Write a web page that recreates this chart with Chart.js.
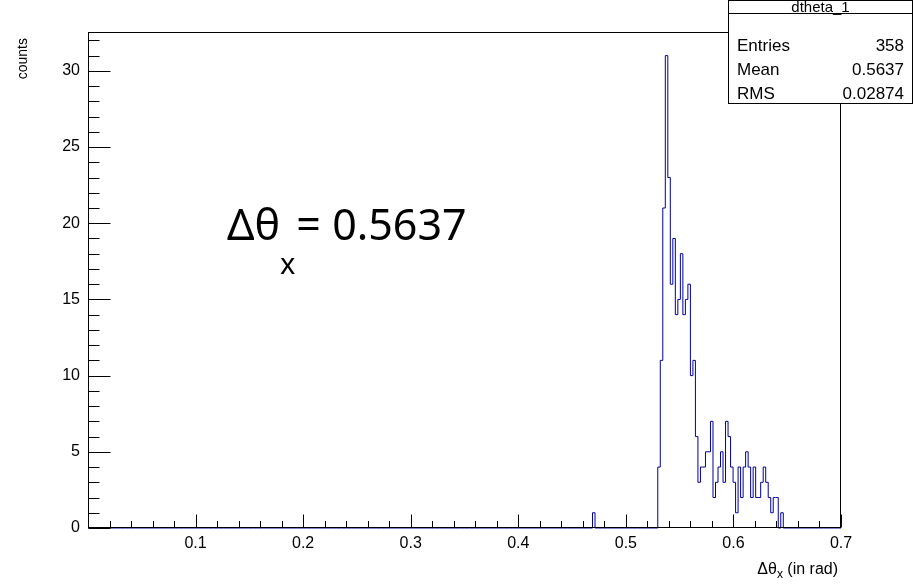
<!DOCTYPE html>
<html>
<head>
<meta charset="utf-8">
<script src="https://cdn.jsdelivr.net/npm/chart.js@4.4.1/dist/chart.umd.min.js"></script>
<style>
  html, body { margin: 0; padding: 0; background: #fff; }
  #wrap { width: 914px; height: 584px; }
</style>
</head>
<body>
<div id="wrap"><canvas id="hist" width="914" height="584"></canvas></div>
<script>
// histogram binning: 300 bins over [0, 0.7]
const xMin = 0;
const xMax = 0.7;
const nBins = 300;

// counts of the main peak, bins 227..276
const peakStart = 227;
const peakCounts = [4, 11, 21, 31, 23, 16, 19, 14, 15, 18,
                    14, 15, 16, 10, 11, 6, 3, 4, 4, 5,
                    5, 7, 2, 3, 4, 5, 3, 7, 6, 4,
                    3, 1, 4, 2, 4, 5, 4, 2, 4, 2,
                    2, 3, 4, 3, 2, 1, 2, 2, 0, 1];
// single stray entries away from the peak
const strayBins = [201];
const strayCounts = [1];

const xTicks = [0.1, 0.2, 0.3, 0.4, 0.5, 0.6, 0.7];
const yTicks = [0, 5, 10, 15, 20, 25, 30];
const yMax = 32.55;

const statsTitle = 'dtheta_1';
const statsLabels = ['Entries', 'Mean', 'RMS'];
const statsValues = ['358', '0.5637', '0.02874'];

const FONT = '"Liberation Sans", Arial, Helvetica, sans-serif';

// fill the full bin content array
const binWidth = (xMax - xMin) / nBins;
const counts = new Array(nBins).fill(0);
peakCounts.forEach((c, i) => { counts[peakStart + i] = c; });
strayBins.forEach((b, i) => { counts[b] = strayCounts[i]; });

// step outline: each point holds its bin value until the next low edge
const points = counts.map((c, k) => ({ x: xMin + k * binWidth, y: c }));
points.push({ x: xMax, y: 0 });

const rootFrame = {
    id: 'rootFrame',
    afterDatasetsDraw(chart) {
        const { ctx, chartArea: a, scales: { x, y } } = chart;
        const L = Math.round(a.left) + 0.5;
        const R = Math.round(a.right) - 0.5;
        const T = Math.round(a.top) + 0.5;
        const B = Math.round(a.bottom) - 0.5;
        ctx.save();
        ctx.strokeStyle = '#000';
        ctx.lineWidth = 1;
        ctx.strokeRect(L, T, R - L, B - T);

        ctx.beginPath();
        // x axis: major every 0.1, minor every 0.02, pointing up into the frame
        for (let i = 0; i <= 35; i++) {
            const px = Math.round(x.getPixelForValue(i * 0.02)) + 0.5;
            const len = i % 5 === 0 ? 13 : 6.5;
            ctx.moveTo(px, B);
            ctx.lineTo(px, B - len);
        }
        // y axis: major every 5, minor every 1
        for (let v = 0; v <= 32; v++) {
            const py = Math.round(y.getPixelForValue(v)) + 0.5;
            const len = v % 5 === 0 ? 22 : 11;
            ctx.moveTo(L, py);
            ctx.lineTo(L + len, py);
        }
        ctx.stroke();
        ctx.restore();
    },
    afterDraw(chart) {
        const { ctx } = chart;
        ctx.save();
        ctx.fillStyle = '#000';

        // y axis title, right-aligned to the top of the axis
        ctx.save();
        ctx.translate(27, 38);
        ctx.rotate(-Math.PI / 2);
        ctx.font = '14px ' + FONT;
        ctx.textAlign = 'right';
        ctx.textBaseline = 'alphabetic';
        ctx.fillText('counts', 0, 0);
        ctx.restore();

        // x axis title with subscript
        ctx.textBaseline = 'alphabetic';
        ctx.textAlign = 'left';
        const tail = ' (in rad)';
        const head = '\u0394\u03b8';
        ctx.font = '12px ' + FONT;
        const wSub = ctx.measureText('x').width;
        ctx.font = '16px ' + FONT;
        const wTail = ctx.measureText(tail).width;
        const wHead = ctx.measureText(head).width;
        let tx = 838 - wTail - wSub - wHead;
        ctx.fillText(head, tx, 574);
        tx += wHead;
        ctx.font = '12px ' + FONT;
        ctx.fillText('x', tx, 578);
        tx += wSub;
        ctx.font = '16px ' + FONT;
        ctx.fillText(tail, tx, 574);

        // large annotation
        const big = '43px "Noto Sans", "Open Sans", sans-serif';
        const sub = '29px "Noto Sans", "Open Sans", sans-serif';
        let ax = 227;
        ctx.font = big;
        ctx.fillText('\u0394\u03b8', ax, 240);
        ax += ctx.measureText('\u0394\u03b8').width;
        ctx.font = sub;
        ctx.fillText('x', ax, 274);
        ax += ctx.measureText('x').width + 1;
        ctx.font = big;
        ctx.fillText('= 0.5637', ax, 240);

        // stats box
        const bx = 728.5, by = 0.5, bw = 184, bh = 103;
        ctx.fillStyle = '#fff';
        ctx.fillRect(bx, by, bw, bh);
        ctx.strokeStyle = '#000';
        ctx.lineWidth = 1;
        ctx.strokeRect(bx, by, bw, bh);
        ctx.beginPath();
        ctx.moveTo(bx, 13.5);
        ctx.lineTo(bx + bw, 13.5);
        ctx.stroke();

        ctx.fillStyle = '#000';
        ctx.textBaseline = 'alphabetic';
        ctx.font = '15px ' + FONT;
        ctx.textAlign = 'center';
        ctx.fillText(statsTitle, bx + bw / 2, 12);
        ctx.textBaseline = 'middle';
        ctx.font = '17px ' + FONT;
        statsLabels.forEach((lab, i) => {
            const ry = 46 + i * 24;
            ctx.textAlign = 'left';
            ctx.fillText(lab, 737, ry);
            ctx.textAlign = 'right';
            ctx.fillText(statsValues[i], 904, ry);
        });
        ctx.restore();
    }
};

const ctx = document.getElementById('hist').getContext('2d');
new Chart(ctx, {
    type: 'line',
    data: {
        datasets: [{
            label: statsTitle,
            data: points,
            stepped: true,
            borderColor: '#000099',
            borderWidth: 1,
            pointRadius: 0,
            fill: false,
            tension: 0,
            clip: false
        }]
    },
    options: {
        responsive: false,
        animation: false,
        events: [],
        layout: { padding: { top: 32, right: 73, left: 0, bottom: 0 } },
        plugins: {
            legend: { display: false },
            tooltip: { enabled: false }
        },
        scales: {
            x: {
                type: 'linear',
                min: xMin,
                max: xMax,
                afterBuildTicks: scale => { scale.ticks = xTicks.map(v => ({ value: v })); },
                afterFit: scale => { scale.height = 56; },
                ticks: {
                    color: '#000',
                    padding: 6,
                    font: { family: FONT, size: 16 },
                    maxRotation: 0,
                    callback: v => Number(v).toFixed(1)
                },
                grid: { display: false, drawTicks: false },
                border: { display: false }
            },
            y: {
                min: 0,
                max: yMax,
                afterBuildTicks: scale => { scale.ticks = yTicks.map(v => ({ value: v })); },
                afterFit: scale => { scale.width = 88; },
                ticks: {
                    color: '#000',
                    padding: 8,
                    font: { family: FONT, size: 16 },
                    callback: v => String(v)
                },
                grid: { display: false, drawTicks: false },
                border: { display: false }
            }
        }
    },
    plugins: [rootFrame]
});
</script>
</body>
</html>
